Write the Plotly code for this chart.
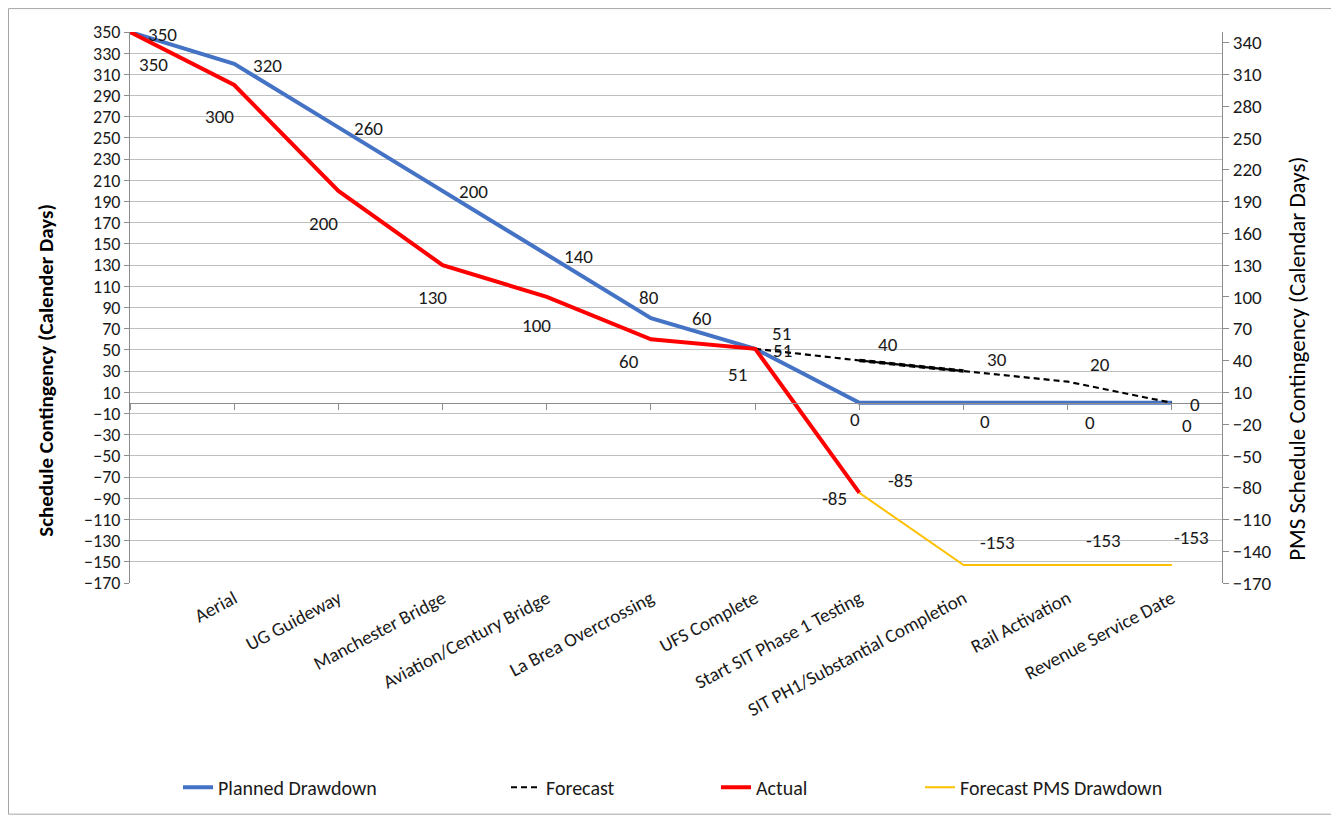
import plotly.graph_objects as go

# ---------------- data ----------------
categories = ["", "Aerial", "UG Guideway", "Manchester Bridge", "Aviation/Century Bridge",
              "La Brea Overcrossing", "UFS Complete", "Start SIT Phase 1 Testing",
              "SIT PH1/Substantial Completion", "Rail Activation", "Revenue Service Date"]
planned = [350, 320, 260, 200, 140, 80, 51, 0, 0, 0, 0]
actual = [350, 300, 200, 130, 100, 60, 51, -85, None, None, None]
forecast = [None, None, None, None, None, None, 51, 40, 30, 20, 0]
forecast_overlap = [None, None, None, None, None, None, None, 40, 30, None, None]
pms_drawdown = [None, None, None, None, None, None, None, -85, -153, -153, -153]
stray_label = "60"

y_min, y_max = -170, 350
xs = list(range(len(categories)))

# label pixel offsets (dx right, dy down) per point
planned_off = [(32, 2), (33, 2), (30, 1), (31, 1), (32, 2), (-2, -21), (26, -15),
               (-4, 17), (21, 19), (22, 20), (15, 23)]
actual_off = [(23, 32), (-15, 32), (-15, 33), (-10, 32), (-10, 29), (-22, 22), (-18, 26), (-25, 6)]
forecast_off = {6: (27, 2), 7: (29, -16), 8: (33, -12), 9: (32, -17), 10: (23, 2)}
pms_off = {7: (41, -12), 8: (34, -22), 9: (36, -24), 10: (20, -27)}

# page geometry (the page body adds an 8px offset)
OFF = 8
PL, PR, PT, PB = 130, 1222, 32, 585      # plot area in page pixels
PW, PH = PR - PL, PB - PT
FW, FH = 1339 - OFF, 819 - OFF

def px(page_x):
    return (page_x - PL) / PW

def py(page_y):
    return (PB - page_y) / PH

FONT = "Carlito, Lato, Calibri, sans-serif"
TXT = "#1a1a1a"
BLUE, RED, GOLD = "#4472C4", "#FF0000", "#FFC000"
GRID = "#BFBFBF"
AXIS = "#8C8C8C"

fig = go.Figure()
fig.add_trace(go.Scatter(x=xs, y=planned, mode="lines", name="Planned Drawdown",
                         line=dict(color=BLUE, width=4), legend="legend"))
fig.add_trace(go.Scatter(x=xs, y=forecast, mode="lines", name="Forecast",
                         line=dict(color="black", width=2.2, dash="6px,4px"), legend="legend2"))
fig.add_trace(go.Scatter(x=xs, y=forecast_overlap, mode="lines", name="Forecast",
                         line=dict(color="black", width=3.5, dash="6px,4px"), showlegend=False))
fig.add_trace(go.Scatter(x=xs, y=actual, mode="lines", name="Actual",
                         line=dict(color=RED, width=4), legend="legend3"))
fig.add_trace(go.Scatter(x=xs, y=pms_drawdown, mode="lines", name="Forecast PMS Drawdown",
                         line=dict(color=GOLD, width=2), xaxis="x2", yaxis="y2", legend="legend4"))

ann = []
def lab(x, y, text, off, yref="y"):
    ann.append(dict(x=x, y=y, xref="x", yref=yref, text=text, showarrow=False,
                    xshift=off[0], yshift=-off[1], font=dict(family=FONT, size=19, color=TXT),
                    xanchor="center", yanchor="middle"))

for i, v in enumerate(planned):
    lab(i, v, str(v), planned_off[i])
lab(5, planned[5], stray_label, (51, 0))
for i, v in enumerate(actual):
    if v is not None:
        lab(i, v, str(v), actual_off[i])
for i, v in enumerate(forecast):
    if v is not None:
        lab(i, v, str(v), forecast_off[i])
for i, v in enumerate(pms_drawdown):
    if v is not None:
        lab(i, v, str(v), pms_off[i], yref="y2")

# axis titles
ann.append(dict(x=px(46), y=py(372), xref="paper", yref="paper",
                text="<b>Schedule Contingency (Calender Days)</b>",
                textangle=-90, showarrow=False, font=dict(family=FONT, size=21, color="black"),
                xanchor="center", yanchor="middle"))
ann.append(dict(x=px(1297), y=py(360), xref="paper", yref="paper",
                text="PMS Schedule Contingency (Calendar Days)",
                textangle=-90, showarrow=False, font=dict(family=FONT, size=23, color="black"),
                xanchor="center", yanchor="middle"))
fig.update_layout(annotations=ann)

leg_common = dict(orientation="h", y=py(790), xanchor="left", yanchor="middle",
                  font=dict(family=FONT, size=20, color=TXT), bgcolor="rgba(0,0,0,0)")

fig.update_layout(
    width=FW, height=FH,
    margin=dict(l=PL - OFF, r=FW - (PR - OFF), t=PT - OFF, b=FH - (PB - OFF)),
    plot_bgcolor="white", paper_bgcolor="white",
    font=dict(family=FONT, size=18, color=TXT),
    xaxis=dict(range=[0, 10.48], tickmode="array", tickvals=xs[1:], ticktext=categories[1:],
               tickangle=-28, showgrid=False, showline=False, zeroline=False, ticks="",
               tickfont=dict(family=FONT, size=19, color=TXT)),
    xaxis2=dict(range=[0, 10.48], overlaying="x", anchor="free",
                position=(0 - y_min) / (y_max - y_min),
                tickmode="array", tickvals=xs, showticklabels=False, ticks="outside",
                ticklen=6, tickcolor=AXIS, showline=True, linecolor=AXIS, linewidth=1,
                showgrid=False, zeroline=False),
    yaxis=dict(range=[y_min, y_max], tick0=y_min, dtick=20, showgrid=True, gridcolor=GRID,
               gridwidth=1, showline=True, linecolor=AXIS, ticks="outside", ticklen=5,
               tickcolor=AXIS, zeroline=False, tickfont=dict(family=FONT, size=18, color=TXT)),
    yaxis2=dict(range=[y_min, y_max], tick0=y_min, dtick=30, overlaying="y", side="right",
                showgrid=False, showline=True, linecolor=AXIS, ticks="outside", ticklen=6,
                tickcolor=AXIS, zeroline=False, tickfont=dict(family=FONT, size=19, color=TXT)),
    legend=dict(x=px(178), **leg_common),
    legend2=dict(x=px(506), **leg_common),
    legend3=dict(x=px(716), **leg_common),
    legend4=dict(x=px(920), **leg_common),
    shapes=[dict(type="rect", xref="paper", yref="paper",
                 x0=px(8.5), x1=px(1335), y0=py(817), y1=py(8.5),
                 line=dict(color="#A6A6A6", width=1), fillcolor="rgba(0,0,0,0)", layer="below")],
)

fig.write_html("out.html")
